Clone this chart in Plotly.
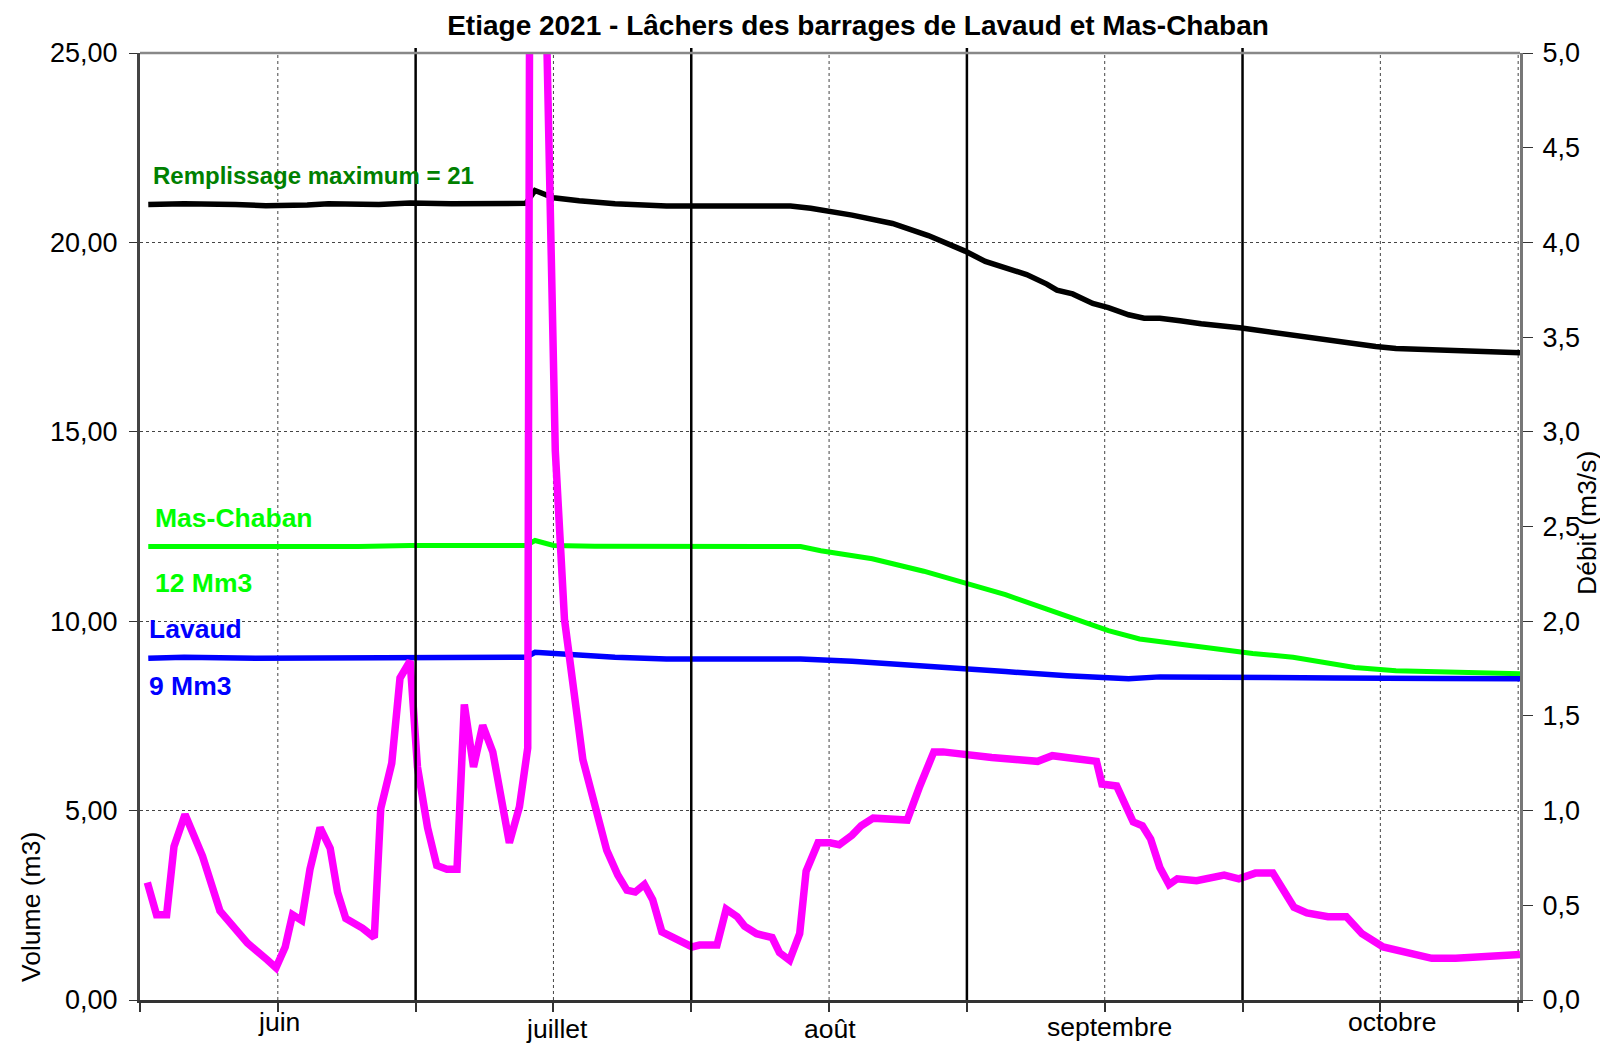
import plotly.graph_objects as go

# ---- data (x in chart days, each month drawn as 30 days: juin=0-30 ... octobre=120-150) ----
months = ["juin", "juillet", "août", "septembre", "octobre"]
month_label_day = [15.1, 45.4, 75.1, 105.5, 136.3]

total_day = [0.9, 4.8, 10.4, 13.7, 18.2, 20.5, 26.0, 29.4, 33.9, 38.3, 42.0, 43.0, 45.0, 47.8, 51.7,
             57.3, 62.9, 65.2, 70.8, 73.0, 77.5, 81.9, 85.8, 89.8, 92.0, 96.5, 98.7, 99.8, 101.5,
             103.7, 105.4, 107.6, 109.3, 111.0, 113.2, 115.5, 119.9, 122.2, 125.5, 130.0, 134.5,
             136.7, 141.2, 145.6, 147.9, 150.2]
total_vol = [21.0, 21.02, 21.0, 20.97, 20.99, 21.02, 21.0, 21.04, 21.02, 21.03, 21.03, 21.37, 21.18,
             21.1, 21.02, 20.96, 20.94, 20.96, 20.96, 20.9, 20.72, 20.5, 20.18, 19.77, 19.5, 19.15,
             18.9, 18.74, 18.64, 18.39, 18.28, 18.09, 18.0, 18.0, 17.93, 17.85, 17.74, 17.66, 17.58,
             17.42, 17.25, 17.2, 17.17, 17.12, 17.09, 17.09]

mas_day = [0.9, 7.0, 13.7, 18.2, 23.8, 29.4, 35.0, 42.0, 43.0, 45.0, 49.5, 57.3, 71.9, 74.1, 79.7,
           85.3, 89.8, 94.2, 98.7, 102.0, 105.4, 108.8, 112.1, 116.6, 121.1, 125.5, 128.9, 132.2,
           136.7, 141.2, 145.6, 150.2]
mas_vol = [11.97, 11.97, 11.96, 11.98, 11.97, 12.0, 12.0, 12.0, 12.13, 12.0, 11.98, 11.97, 11.97,
           11.86, 11.65, 11.32, 11.02, 10.7, 10.32, 10.05, 9.75, 9.53, 9.43, 9.29, 9.15, 9.05, 8.91,
           8.78, 8.69, 8.67, 8.64, 8.61]

lav_day = [0.9, 4.8, 12.6, 18.2, 29.4, 35.0, 42.0, 43.0, 47.3, 51.7, 57.3, 62.9, 71.9, 77.5, 81.9,
           89.8, 94.2, 100.9, 105.4, 107.6, 111.0, 118.8, 130.0, 141.2, 150.2]
lav_vol = [9.02, 9.05, 9.02, 9.03, 9.05, 9.05, 9.05, 9.18, 9.1, 9.05, 9.0, 8.99, 9.0, 8.94, 8.86,
           8.75, 8.67, 8.56, 8.5, 8.48, 8.53, 8.51, 8.5, 8.49, 8.48]

debit_day = [0.8, 1.8, 2.9, 3.7, 4.9, 6.8, 8.7, 11.7, 13.9, 14.8,
             15.8, 16.6, 17.6, 18.5, 19.6, 20.7, 21.5, 22.4, 24.2, 25.5,
             26.2, 27.4, 28.3, 29.4, 30.2, 31.3, 32.3, 33.4, 34.5, 35.3,
             36.3, 37.3, 38.4, 40.2, 41.3, 42.2, 42.6, 44.3, 45.2, 46.2,
             48.2, 50.8, 52.0, 53.0, 53.9, 54.9, 55.8, 56.8, 58.0, 59.1,
             60.1, 60.9, 62.8, 63.8, 65.0, 65.8, 67.1, 68.8, 69.6, 70.7,
             71.8, 72.5, 73.8, 75.1, 76.1, 77.5, 78.5, 79.8, 83.5, 84.8,
             86.4, 87.4, 90.1, 92.7, 95.3, 97.7, 99.3, 100.7, 103.2, 104.1,
             104.7, 106.3, 108.1, 109.1, 110.0, 111.0, 112.0, 112.9, 115.0, 118.0,
             119.6, 121.4, 123.3, 125.6, 127.0, 129.3, 131.3, 133.0, 135.3, 137.9,
             140.6, 143.2, 146.3, 147.6, 150.2]
debit_val = [0.62, 0.45, 0.45, 0.81, 0.98, 0.76, 0.47, 0.30, 0.21, 0.17,
             0.28, 0.45, 0.42, 0.69, 0.91, 0.80, 0.57, 0.43, 0.38, 0.33,
             1.01, 1.25, 1.70, 1.79, 1.23, 0.91, 0.71, 0.69, 0.69, 1.56,
             1.23, 1.45, 1.31, 0.83, 1.02, 1.33, 9.0, 4.93, 2.90, 2.01,
             1.27, 0.79, 0.66, 0.58, 0.57, 0.61, 0.53, 0.36, 0.33, 0.31,
             0.28, 0.29, 0.29, 0.48, 0.44, 0.39, 0.35, 0.33, 0.25, 0.21,
             0.35, 0.68, 0.83, 0.83, 0.82, 0.87, 0.92, 0.96, 0.95, 1.12,
             1.31, 1.31, 1.29, 1.28, 1.27, 1.26, 1.29, 1.28, 1.27, 1.26,
             1.14, 1.13, 0.94, 0.92, 0.85, 0.70, 0.61, 0.64, 0.63, 0.66,
             0.64, 0.67, 0.67, 0.49, 0.46, 0.44, 0.44, 0.35, 0.28, 0.25,
             0.22, 0.22, 0.23, 0.24, 0.24]
assert len(debit_day) == len(debit_val)

left_ticks = [0, 5, 10, 15, 20, 25]
right_ticks = [0, 0.5, 1.0, 1.5, 2.0, 2.5, 3.0, 3.5, 4.0, 4.5, 5.0]
month_bounds = [30, 60, 90, 120]
month_mids = [15, 45, 75, 105, 135, 150]

FONT = "Liberation Sans, Arial, sans-serif"
OFF = 8  # page body margin
W, H = 1608 - OFF, 1043 - OFF
L, R, T, B = 140 - OFF, 88, 53 - OFF, 43
PW, PH = W - L - R, H - T - B


def py(pix):  # screenshot pixel y -> paper y
    return (H - B - (pix - OFF)) / PH


def px(pix):  # screenshot pixel x -> paper x
    return (pix - OFF - L) / PW


fig = go.Figure()
fig.add_trace(go.Scatter(x=total_day, y=total_vol, mode="lines",
                         line=dict(color="#000000", width=5.5), name="Total"))
fig.add_trace(go.Scatter(x=mas_day, y=mas_vol, mode="lines",
                         line=dict(color="#00FF00", width=5), name="Mas-Chaban"))
fig.add_trace(go.Scatter(x=lav_day, y=lav_vol, mode="lines",
                         line=dict(color="#0000FF", width=5.5), name="Lavaud"))
fig.add_trace(go.Scatter(x=debit_day, y=debit_val, mode="lines", yaxis="y2",
                         line=dict(color="#FF00FF", width=7.5), name="Débit"))

shapes = []
for d in month_mids:
    shapes.append(dict(type="line", xref="x", yref="paper", x0=d, x1=d, y0=0, y1=1,
                       line=dict(color="#444444", width=1, dash="dot"), layer="below"))
for d in month_bounds:
    shapes.append(dict(type="line", xref="x", yref="paper", x0=d, x1=d, y0=0, y1=1 + 5 / PH,
                       line=dict(color="#000000", width=2.5), layer="above"))
# top border
shapes.append(dict(type="line", xref="paper", yref="paper", x0=0, x1=1, y0=1, y1=1,
                   line=dict(color="#888888", width=2.5), layer="above"))

annotations = [
    dict(text="<b>Remplissage maximum = 21</b>", x=px(151), y=py(176), xref="paper", yref="paper",
         xanchor="left", yanchor="middle", showarrow=False, font=dict(color="#008000", size=24, family=FONT)),
    dict(text="<b>Mas-Chaban</b>", x=px(153), y=py(518), xref="paper", yref="paper",
         xanchor="left", yanchor="middle", showarrow=False, font=dict(color="#00FF00", size=26.5, family=FONT)),
    dict(text="<b>12 Mm3</b>", x=px(153), y=py(583), xref="paper", yref="paper",
         xanchor="left", yanchor="middle", showarrow=False, font=dict(color="#00FF00", size=26.5, family=FONT)),
    dict(text="<b>Lavaud</b>", x=px(147), y=py(629), xref="paper", yref="paper",
         xanchor="left", yanchor="middle", showarrow=False, font=dict(color="#0000FF", size=26.5, family=FONT)),
    dict(text="<b>9 Mm3</b>", x=px(147), y=py(686), xref="paper", yref="paper",
         xanchor="left", yanchor="middle", showarrow=False, font=dict(color="#0000FF", size=26.5, family=FONT)),
    dict(text="Volume (m3)", x=px(31), y=py(907), xref="paper", yref="paper", textangle=-90,
         xanchor="center", yanchor="middle", showarrow=False, font=dict(color="#000", size=26.5, family=FONT)),
    dict(text="Débit (m3/s)", x=px(1587), y=py(523), xref="paper", yref="paper", textangle=-90,
         xanchor="center", yanchor="middle", showarrow=False, font=dict(color="#000", size=26.5, family=FONT)),
]
label_y_pix = [1022, 1029, 1029, 1027, 1022]
for m, d, yp in zip(months, month_label_day, label_y_pix):
    annotations.append(dict(text=m, x=d, xref="x", y=py(yp), yref="paper", xanchor="center",
                            yanchor="middle", showarrow=False,
                            font=dict(color="#000", size=26.5, family=FONT)))

fig.update_layout(
    width=W, height=H,
    margin=dict(l=L, r=R, t=T, b=B, pad=0),
    paper_bgcolor="white", plot_bgcolor="white",
    separators=", ",
    showlegend=False,
    font=dict(family=FONT, size=26, color="#000"),
    title=dict(text="<b>Etiage 2021 - Lâchers des barrages de Lavaud et Mas-Chaban</b>",
               x=(858 - OFF) / W, y=1 - (25 - OFF) / H, xanchor="center", yanchor="middle",
               font=dict(size=28, family=FONT, color="#000")),
    xaxis=dict(range=[0, 150.2], showgrid=False, zeroline=False,
               tickvals=[0, 15, 30, 45, 60, 75, 90, 105, 120, 135, 150], showticklabels=False,
               ticks="outside", ticklen=9, tickwidth=1.5, tickcolor="#333",
               showline=True, linecolor="#333333", linewidth=2.5),
    yaxis=dict(range=[0, 25], tickvals=left_ticks, tickformat=".2f", showgrid=True,
               gridcolor="#444444", griddash="dot", gridwidth=1, zeroline=False,
               ticks="outside", ticklen=8, tickcolor="#333", ticklabelstandoff=6,
               showline=True, linecolor="#444444", linewidth=3,
               tickfont=dict(size=27, family=FONT, color="#000")),
    yaxis2=dict(range=[0, 5], tickvals=right_ticks, tickformat=".1f", overlaying="y", side="right",
                showgrid=False, zeroline=False, ticks="outside", ticklen=10, tickcolor="#333",
                ticklabelstandoff=4, showline=True, linecolor="#777777", linewidth=3,
                tickfont=dict(size=27, family=FONT, color="#000")),
    shapes=shapes,
    annotations=annotations,
)

fig.write_html("out.html")
